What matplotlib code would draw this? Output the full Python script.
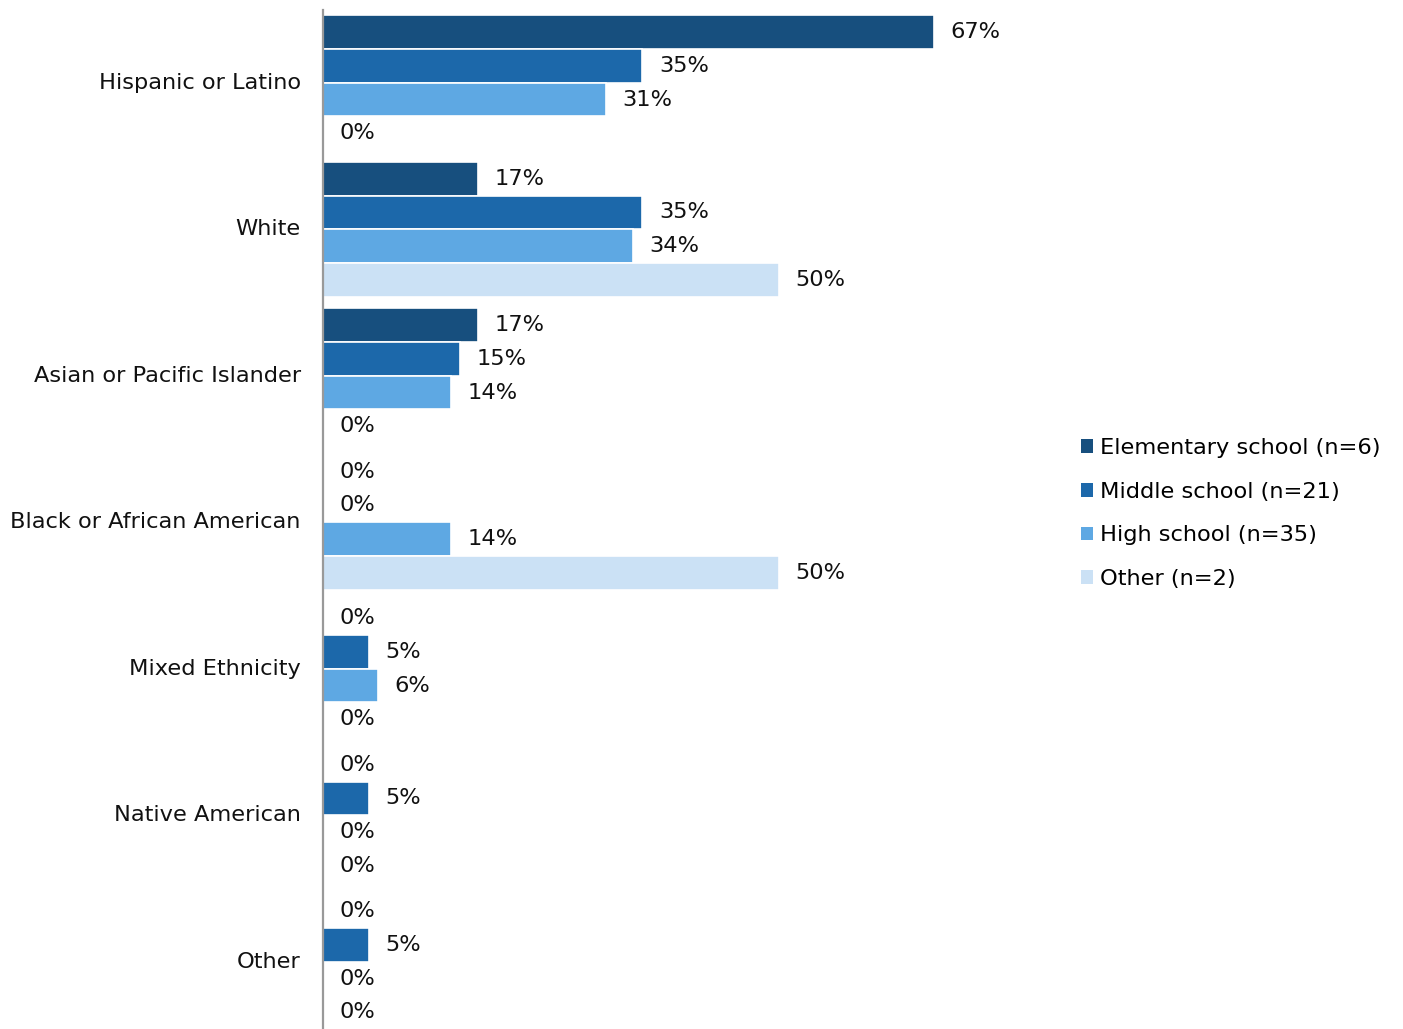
import matplotlib.pyplot as plt
import numpy as np
from matplotlib.patches import Patch

plt.rcParams['font.family'] = 'DejaVu Sans'

categories = ['Hispanic or Latino', 'White', 'Asian or Pacific Islander',
              'Black or African American', 'Mixed Ethnicity', 'Native American', 'Other']
series = ['Elementary school (n=6)', 'Middle school (n=21)', 'High school (n=35)', 'Other (n=2)']
elementary = [67, 17, 17, 0, 0, 0, 0]
middle = [35, 35, 15, 0, 5, 5, 5]
high = [31, 34, 14, 14, 6, 0, 0]
other = [0, 50, 0, 50, 0, 0, 0]

colores = ['#174f7e', '#1c68aa', '#5ea8e3', '#cbe1f5']
valores = [elementary, middle, high, other]
fs = 16.2

W, H = 1403, 1029
fig = plt.figure(figsize=(W / 100, H / 100), dpi=100)
# eje en pixeles: izquierda 323, arriba 9.5, 146.5 px por grupo
top = 1 - 9.5 / H
alto = 7 * 146.5 / H
ax = fig.add_axes([323 / W, top - alto, 80 * 9.12 / W, alto])

y = np.arange(len(categories))
paso = 0.23
for i, (vals, col) in enumerate(zip(valores, colores)):
    pos = y + (i - 1.5) * paso
    ax.barh(pos, vals, height=paso, color=col, edgecolor='white', linewidth=1.2)
    for p, v in zip(pos, vals):
        ax.annotate(f'{v}%', xy=(v, p), xytext=(12, 0), textcoords='offset points',
                    va='center', ha='left', fontsize=fs, color='#111111')

ax.set_xlim(0, 80)
ax.set_ylim(len(categories) - 0.5, -0.5)
ax.set_yticks(y)
ax.set_yticklabels(categories, fontsize=fs, color='#111111', va='center')
ax.tick_params(axis='y', length=0, pad=16)
ax.set_xticks([])
for lado in ['top', 'right', 'bottom']:
    ax.spines[lado].set_visible(False)
ax.spines['left'].set_color('#999999')
ax.spines['left'].set_linewidth(1.6)

handles = [Patch(facecolor=c, edgecolor='none') for c in colores]
fig.legend(handles, series, loc='center left', bbox_to_anchor=(1081 / W, 1 - 513.5 / H),
           frameon=False, fontsize=fs, handlelength=0.55, handleheight=0.55,
           handletextpad=0.3, labelspacing=1.05, borderpad=0, borderaxespad=0)

fig.savefig('out.png', dpi=100)
